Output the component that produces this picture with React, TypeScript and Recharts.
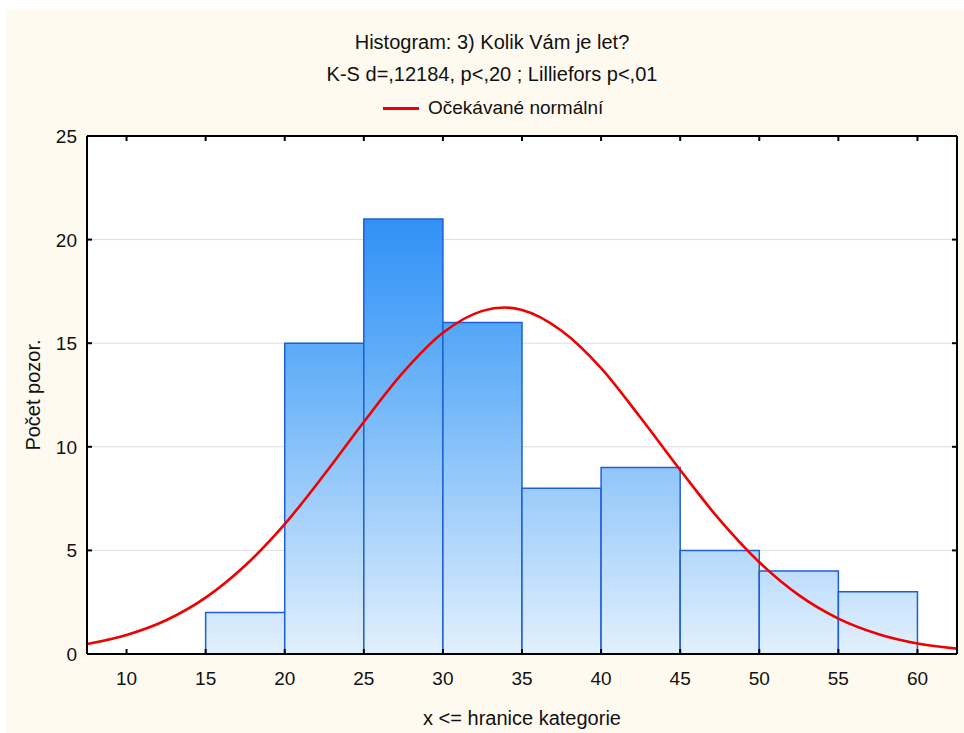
import React from 'react';
import { ComposedChart, Line, XAxis, YAxis, CartesianGrid, ReferenceArea } from 'recharts';

const binStarts = [15, 20, 25, 30, 35, 40, 45, 50, 55];
const binEnds = [20, 25, 30, 35, 40, 45, 50, 55, 60];
const binCounts = [2, 15, 21, 16, 8, 9, 5, 4, 3];

const curveX = [7.5, 10, 12.5, 15, 17.5, 20, 22.5, 25, 27.5, 30, 32.5, 33.9, 35, 37.5, 40, 42.5, 45, 47.5, 50, 52.5, 55, 57.5, 60, 62.5];
const curveY = [0.48, 0.92, 1.63, 2.72, 4.27, 6.27, 8.66, 11.2, 13.6, 15.5, 16.56, 16.72, 16.6, 15.6, 13.8, 11.4, 8.88, 6.47, 4.43, 2.84, 1.71, 0.97, 0.51, 0.26];

const xTicks = [10, 15, 20, 25, 30, 35, 40, 45, 50, 55, 60];
const yTicks = [0, 5, 10, 15, 20, 25];

const titleText = 'Histogram: 3) Kolik Vám je let?';
const subtitleText = 'K-S d=,12184, p<,20 ; Lilliefors p<,01';
const legendText = 'Očekávané normální';
const xLabel = 'x <= hranice kategorie';
const yLabel = 'Počet pozor.';

const curveData = curveX.map((x, i) => ({ x, y: curveY[i] }));

const FONT = '"Liberation Sans", Arial, sans-serif';
const FS = 19;
const TXT = '#111';

const BottomTick = (props: any) => {
  const { x, y, payload } = props;
  return (
    <g>
      <line x1={x} x2={x} y1={y} y2={y - 5} stroke="#000" strokeWidth={2} />
      <text x={x} y={y + 31} textAnchor="middle" fontSize={FS} fontFamily={FONT} fill={TXT}>{payload.value}</text>
    </g>
  );
};
const TopTick = (props: any) => {
  const { x, y } = props;
  return <line x1={x} x2={x} y1={y} y2={y + 5} stroke="#000" strokeWidth={2} />;
};
const LeftTick = (props: any) => {
  const { x, y, payload } = props;
  return (
    <g>
      <line x1={x} x2={x + 5} y1={y} y2={y} stroke="#000" strokeWidth={2} />
      <text x={x - 10} y={y + 7} textAnchor="end" fontSize={FS} fontFamily={FONT} fill={TXT}>{payload.value}</text>
    </g>
  );
};
const RightTick = (props: any) => {
  const { x, y } = props;
  return <line x1={x} x2={x - 5} y1={y} y2={y} stroke="#000" strokeWidth={2} />;
};

const textStyle: React.CSSProperties = {
  position: 'absolute',
  fontFamily: FONT,
  fontSize: 20,
  lineHeight: '22px',
  color: TXT,
  whiteSpace: 'nowrap',
};

export default function App() {
  return (
    <div style={{ position: 'absolute', left: 0, top: 0, width: 964, height: 733, background: '#ffffff', overflow: 'hidden' }}>
      <div style={{ position: 'absolute', left: 6, top: 10, width: 958, height: 723, background: '#fffaf0' }}>
        <ComposedChart
          width={958}
          height={723}
          data={curveData}
          margin={{ top: 125, right: 6, bottom: 0, left: 0 }}
        >
          <defs>
            <linearGradient id="barGrad" gradientUnits="userSpaceOnUse" x1="0" y1="126" x2="0" y2="644">
              <stop offset="0%" stopColor="#1580f4" />
              <stop offset="40%" stopColor="#5aaaf8" />
              <stop offset="100%" stopColor="#e2f0fd" />
            </linearGradient>
          </defs>
          <CartesianGrid vertical={false} stroke="#dcdcdc" fill="#ffffff" />
          {binStarts.map((s, i) => (
            <ReferenceArea
              key={s}
              x1={s}
              x2={binEnds[i]}
              y1={0}
              y2={binCounts[i]}
              fill="url(#barGrad)"
              fillOpacity={1}
              stroke="#1f5fd6"
              strokeWidth={1.5}
              strokeOpacity={1}
            />
          ))}
          <Line
            type="monotone"
            dataKey="y"
            stroke="#f00000"
            strokeWidth={2.6}
            dot={false}
            activeDot={false}
            isAnimationActive={false}
          />
          <XAxis
            dataKey="x"
            type="number"
            domain={[7.5, 62.5]}
            ticks={xTicks}
            allowDataOverflow
            height={79}
            tickSize={0}
            tickMargin={0}
            tickLine={false}
            axisLine={{ stroke: '#000', strokeWidth: 2 }}
            tick={<BottomTick />}
            interval={0}
          />
          <XAxis
            xAxisId="top"
            orientation="top"
            dataKey="x"
            type="number"
            domain={[7.5, 62.5]}
            ticks={xTicks}
            allowDataOverflow
            height={1}
            tickSize={0}
            tickMargin={0}
            tickLine={false}
            axisLine={{ stroke: '#000', strokeWidth: 2 }}
            tick={<TopTick />}
            interval={0}
          />
          <YAxis
            type="number"
            domain={[0, 25]}
            ticks={yTicks}
            allowDataOverflow
            width={81}
            tickSize={0}
            tickMargin={0}
            tickLine={false}
            axisLine={{ stroke: '#000', strokeWidth: 2 }}
            tick={<LeftTick />}
            interval={0}
          />
          <YAxis
            yAxisId="right"
            orientation="right"
            type="number"
            domain={[0, 25]}
            ticks={yTicks}
            allowDataOverflow
            width={1}
            tickSize={0}
            tickMargin={0}
            tickLine={false}
            axisLine={{ stroke: '#000', strokeWidth: 2 }}
            tick={<RightTick />}
            interval={0}
          />
        </ComposedChart>
      </div>
      <div style={{ ...textStyle, left: 492, top: 31, transform: 'translateX(-50%)' }}>{titleText}</div>
      <div style={{ ...textStyle, left: 492, top: 63, transform: 'translateX(-50%)' }}>{subtitleText}</div>
      <div style={{ position: 'absolute', left: 383, top: 107, width: 36, height: 3, background: '#f00000' }} />
      <div style={{ ...textStyle, fontSize: 19, left: 428, top: 97 }}>{legendText}</div>
      <div style={{ ...textStyle, left: 522, top: 707, transform: 'translateX(-50%)' }}>{xLabel}</div>
      <div style={{ ...textStyle, left: 33, top: 395, transform: 'translate(-50%, -50%) rotate(-90deg)' }}>{yLabel}</div>
    </div>
  );
}
